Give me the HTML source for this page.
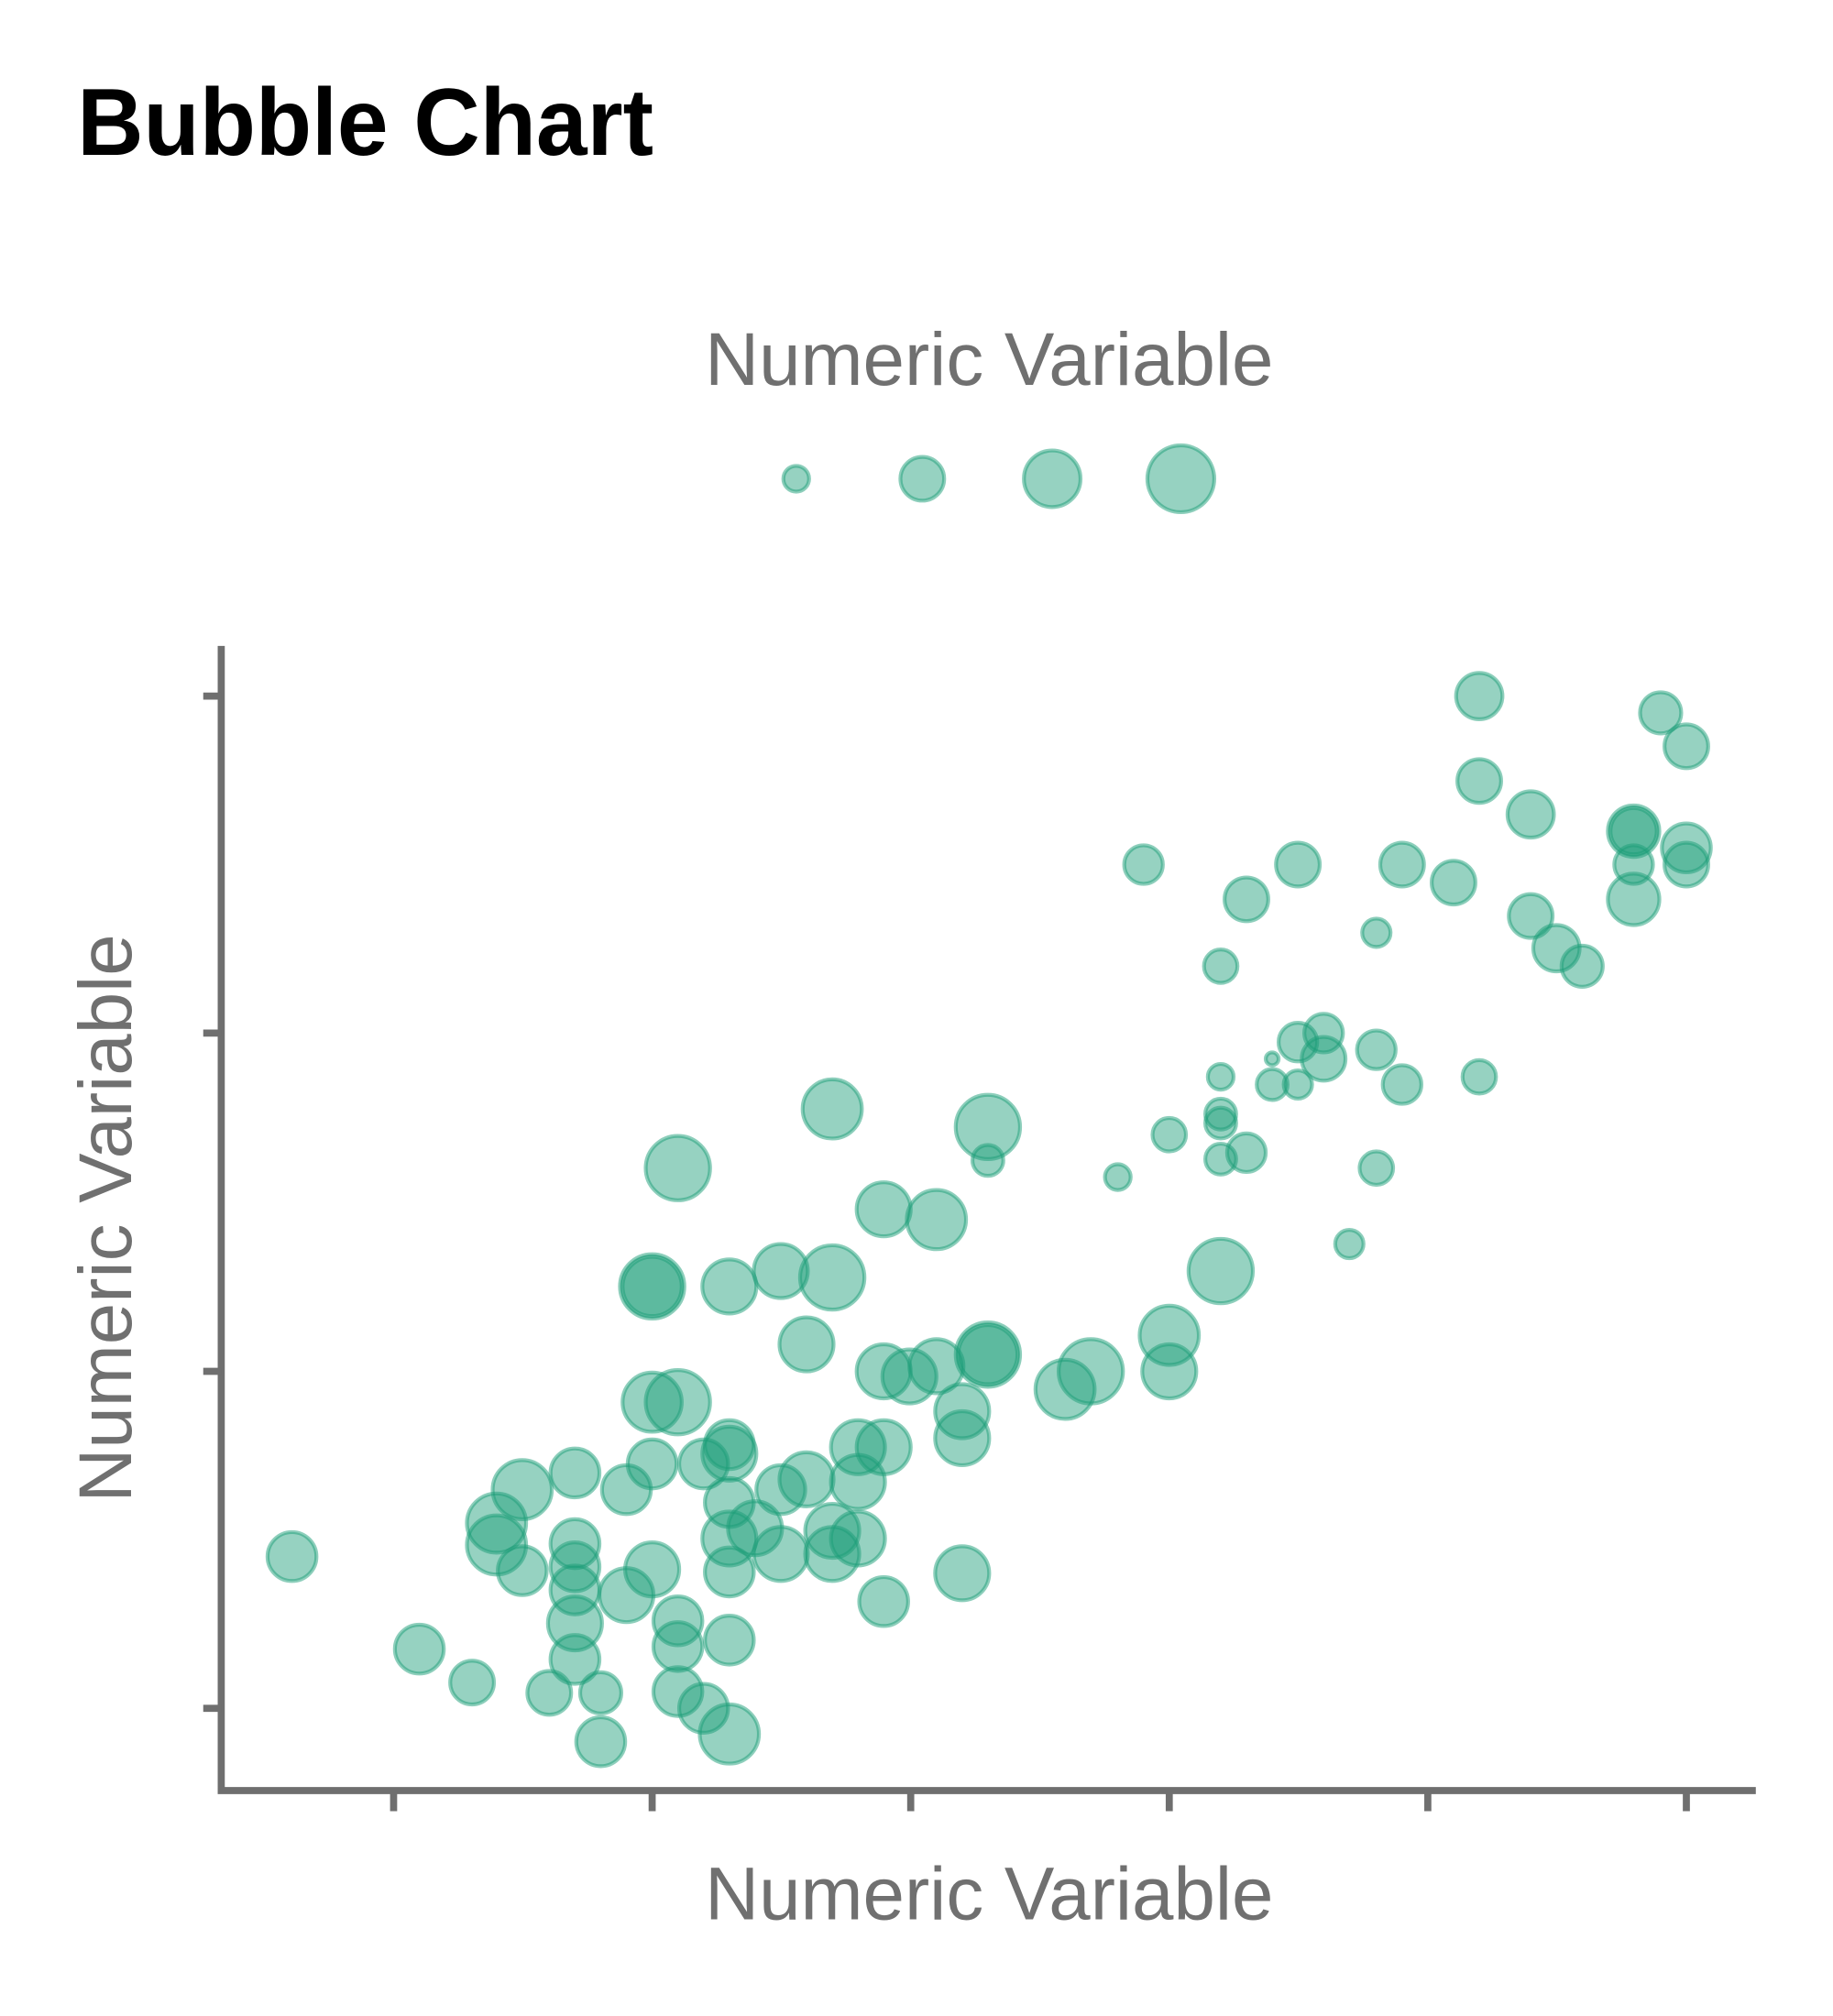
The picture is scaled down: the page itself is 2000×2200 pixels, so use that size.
<!DOCTYPE html>
<html><head><meta charset="utf-8"><style>
html,body{margin:0;padding:0;background:#fff;}
svg{display:block;}
</style></head><body>
<svg width="2000" height="2200" viewBox="0 0 1425 1567" xmlns="http://www.w3.org/2000/svg">
<text x="60" y="120" textLength="448" lengthAdjust="spacingAndGlyphs" font-family="'Liberation Sans',sans-serif" font-weight="bold" font-size="74" fill="#000">Bubble Chart</text>
<text x="769" y="299" text-anchor="middle" textLength="442" lengthAdjust="spacingAndGlyphs" font-family="'Liberation Sans',sans-serif" font-size="58" fill="#707070">Numeric Variable</text>
<g fill="rgba(27,158,119,0.46)" stroke="rgba(27,158,119,0.5)" stroke-width="3">
<circle cx="619" cy="372" r="10"/><circle cx="717" cy="372" r="17"/><circle cx="818" cy="372" r="22"/><circle cx="918" cy="372" r="26"/>
</g>
<g stroke="#6f6f6f" stroke-width="5.5" fill="none">
<path d="M172 502 V1392 H1365"/>
<path d="M158 541 H172 M158 803 H172 M158 1066 H172 M158 1328 H172"/>
<path d="M306 1392 V1408 M507 1392 V1408 M708 1392 V1408 M909 1392 V1408 M1110 1392 V1408 M1311 1392 V1408"/>
</g>
<text x="769" y="1492" text-anchor="middle" textLength="442" lengthAdjust="spacingAndGlyphs" font-family="'Liberation Sans',sans-serif" font-size="58" fill="#707070">Numeric Variable</text>
<text transform="translate(102,947) rotate(-90)" text-anchor="middle" textLength="442" lengthAdjust="spacingAndGlyphs" font-family="'Liberation Sans',sans-serif" font-size="58" fill="#707070">Numeric Variable</text>
<g fill="rgba(27,158,119,0.46)" stroke="rgba(27,158,119,0.5)" stroke-width="3">
<circle cx="227" cy="1210" r="19"/><circle cx="326" cy="1282" r="19"/><circle cx="367" cy="1308" r="17"/>
<circle cx="386" cy="1184" r="23"/><circle cx="386" cy="1201" r="23"/><circle cx="406" cy="1158" r="23"/><circle cx="406" cy="1221" r="19"/>
<circle cx="447" cy="1145" r="19"/><circle cx="447" cy="1200" r="19"/><circle cx="447" cy="1218" r="19"/><circle cx="447" cy="1236" r="19"/><circle cx="447" cy="1262" r="21"/><circle cx="447" cy="1290" r="19"/><circle cx="427" cy="1316" r="17"/><circle cx="467" cy="1316" r="16"/><circle cx="467" cy="1354" r="19"/>
<circle cx="487" cy="1158" r="19"/><circle cx="487" cy="1240" r="21"/><circle cx="507" cy="1220" r="21"/><circle cx="507" cy="1138" r="19"/><circle cx="507" cy="1090" r="23"/><circle cx="527" cy="1090" r="25"/><circle cx="507" cy="1000" r="25"/><circle cx="507" cy="1000" r="23"/>
<circle cx="527" cy="1260" r="19"/><circle cx="527" cy="1280" r="19"/><circle cx="527" cy="1315" r="19"/><circle cx="547" cy="1328" r="19"/><circle cx="567" cy="1348" r="23"/><circle cx="567" cy="1275" r="19"/>
<circle cx="527" cy="908" r="25"/>
<circle cx="547" cy="1138" r="19"/><circle cx="567" cy="1130" r="21"/><circle cx="567" cy="1123" r="19"/><circle cx="567" cy="1000" r="21"/><circle cx="567" cy="1168" r="19"/><circle cx="567" cy="1196" r="21"/><circle cx="567" cy="1222" r="19"/><circle cx="587" cy="1188" r="21"/><circle cx="607" cy="1208" r="21"/><circle cx="607" cy="1158" r="19"/><circle cx="627" cy="1150" r="21"/><circle cx="607" cy="988" r="21"/><circle cx="647" cy="993" r="25"/><circle cx="627" cy="1045" r="21"/><circle cx="647" cy="1208" r="21"/><circle cx="667" cy="1196" r="21"/><circle cx="647" cy="1190" r="21"/><circle cx="667" cy="1152" r="21"/><circle cx="667" cy="1125" r="21"/><circle cx="687" cy="1125" r="21"/><circle cx="687" cy="1245" r="19"/><circle cx="687" cy="940" r="21"/><circle cx="728" cy="948" r="23"/><circle cx="647" cy="862" r="23"/><circle cx="768" cy="876" r="25"/><circle cx="768" cy="902" r="12"/>
<circle cx="687" cy="1066" r="21"/><circle cx="707" cy="1070" r="21"/><circle cx="728" cy="1062" r="21"/><circle cx="748" cy="1097" r="21"/><circle cx="748" cy="1118" r="21"/><circle cx="748" cy="1223" r="21"/><circle cx="768" cy="1053" r="25"/><circle cx="768" cy="1053" r="23"/><circle cx="828" cy="1080" r="23"/><circle cx="848" cy="1066" r="25"/><circle cx="909" cy="1038" r="23"/><circle cx="909" cy="1066" r="21"/><circle cx="949" cy="988" r="25"/>
<circle cx="869" cy="915" r="10"/><circle cx="909" cy="882" r="13"/><circle cx="949" cy="837" r="10"/><circle cx="949" cy="866" r="12"/><circle cx="949" cy="873" r="12"/><circle cx="949" cy="901" r="12"/><circle cx="969" cy="896" r="15"/><circle cx="989" cy="823" r="5"/><circle cx="989" cy="843" r="12"/><circle cx="1009" cy="843" r="11"/><circle cx="1009" cy="810" r="15"/><circle cx="1029" cy="803" r="15"/><circle cx="1029" cy="823" r="17"/><circle cx="1049" cy="967" r="11"/><circle cx="1070" cy="908" r="13"/><circle cx="1070" cy="816" r="15"/><circle cx="1090" cy="843" r="15"/><circle cx="1150" cy="837" r="13"/>
<circle cx="949" cy="751" r="13"/><circle cx="969" cy="699" r="17"/><circle cx="889" cy="672" r="15"/><circle cx="1009" cy="672" r="17"/><circle cx="1070" cy="725" r="11"/><circle cx="1090" cy="672" r="17"/><circle cx="1130" cy="686" r="17"/><circle cx="1150" cy="541" r="18"/><circle cx="1150" cy="607" r="17"/><circle cx="1190" cy="633" r="18"/><circle cx="1190" cy="712" r="17"/><circle cx="1210" cy="737" r="18"/><circle cx="1230" cy="751" r="16"/><circle cx="1270" cy="646" r="20"/><circle cx="1270" cy="646" r="18"/><circle cx="1270" cy="672" r="15"/><circle cx="1270" cy="699" r="20"/><circle cx="1291" cy="554" r="16"/><circle cx="1311" cy="580" r="17"/><circle cx="1311" cy="659" r="19"/><circle cx="1311" cy="672" r="17"/>
</g>
</svg>
</body></html>
